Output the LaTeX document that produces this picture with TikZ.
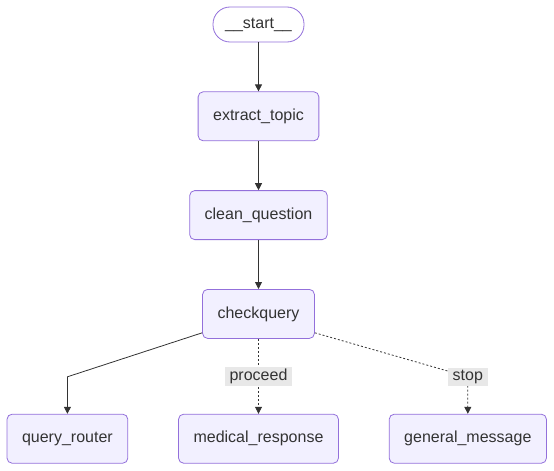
\documentclass[tikz,border=0pt]{standalone}
\usepackage{fontspec}
\setmainfont{Liberation Sans}
\usepackage{xcolor}
\usetikzlibrary{arrows.meta, positioning}
\definecolor{lgpurple}{HTML}{9370DB}
\definecolor{lgfill}{HTML}{F2F0FF}
\definecolor{lgtext}{HTML}{333333}
\definecolor{lglabel}{HTML}{E8E8E8}

\begin{document}
\begin{tikzpicture}[
  x=1pt, y=1pt,
  nodebox/.style={rectangle, draw=lgpurple, fill=lgfill, rounded corners=5pt,
    line width=0.8pt, minimum height=49pt, inner xsep=15pt,
    font=\fontsize{16}{19}\selectfont, text=lgtext},
  startbox/.style={nodebox, fill=white, rounded corners=17pt,
    minimum height=35pt, minimum width=91pt, inner xsep=10pt},
  edge/.style={draw=lgtext, line width=0.8pt, -{Triangle[length=7pt, width=7pt]}},
  condedge/.style={edge, dash pattern=on 2pt off 2pt},
  lbl/.style={fill=lglabel, font=\fontsize{16}{19}\selectfont, text=lgtext,
    inner xsep=5pt, inner ysep=2pt},
  node distance=49pt,
]
  \useasboundingbox (0,0) rectangle (554,-471);

  % main chain
  \node[startbox] (start) at (258.5,-24.5) {\_\_start\_\_};
  \node[nodebox, below=of start] (et) {extract\_topic};
  \node[nodebox, below=of et] (cq0) {clean\_question};
  \node[nodebox, below=of cq0] (cq) {checkquery};

  % bottom row
  \node[nodebox, below=75pt of cq] (mr) {medical\_response};
  \node[nodebox, left=50pt of mr] (qr) {query\_router};
  \node[nodebox, right=50pt of mr] (gm) {general\_message};

  \draw[edge] (start) -- (et);
  \draw[edge] (et) -- (cq0);
  \draw[edge] (cq0) -- (cq);

  % branches
  \draw[edge] ([yshift=6pt]cq.south west) -- ([yshift=37pt]qr.north) -- (qr.north);
  \draw[condedge] (cq.south) -- node[lbl] {proceed} (mr.north);
  \draw[condedge] ([yshift=6pt]cq.south east) -- ([yshift=37pt]gm.north)
    node[lbl] {stop} -- (gm.north);
\end{tikzpicture}
\end{document}
